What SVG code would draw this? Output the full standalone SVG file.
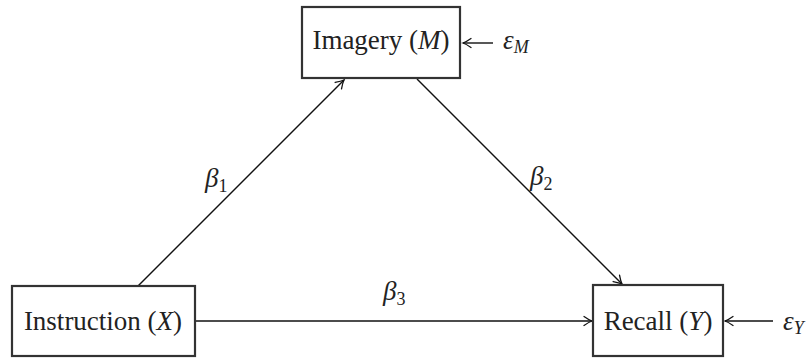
<svg xmlns="http://www.w3.org/2000/svg" width="810" height="358" viewBox="0 0 810 358">
<style>
.box{fill:#fff;stroke:#333;stroke-width:2.2}
.lbl{font-family:'Liberation Serif',serif;font-size:27px;fill:#222}
.it{font-style:italic}
.edge{stroke:#111;stroke-width:1.4;fill:none;marker-end:url(#ah)}
</style>
<defs>
<marker id="ah" viewBox="-10 -6 12 12" refX="0" refY="0" markerWidth="12" markerHeight="12" markerUnits="userSpaceOnUse" orient="auto">
<path d="M-8,-4.5 Q-3,-1 0,0 Q-3,1 -8,4.5" fill="none" stroke="#111" stroke-width="1.3" stroke-linecap="round"/>
</marker>
</defs>
<rect width="810" height="358" fill="#fff"/>
<g id="connectors">
<line class="edge" x1="138" y1="286" x2="344" y2="80"/>
<line class="edge" x1="417" y1="79" x2="622" y2="284"/>
<line class="edge" x1="196" y1="321" x2="592" y2="321"/>
<line class="edge" x1="493" y1="43" x2="463" y2="43"/>
<line class="edge" x1="773" y1="321" x2="725" y2="321"/>
<text class="lbl" x="205" y="187"><tspan class="it">β</tspan><tspan font-size="18" dy="5">1</tspan></text>
<text class="lbl" x="530" y="185"><tspan class="it">β</tspan><tspan font-size="18" dy="5">2</tspan></text>
<text class="lbl" x="383" y="300"><tspan class="it">β</tspan><tspan font-size="18" dy="5">3</tspan></text>
</g>
<g id="node-imagery">
<rect class="box" x="302" y="7" width="158" height="71"/>
<text class="lbl" x="381" y="49" text-anchor="middle">Imagery (<tspan class="it">M</tspan>)</text>
</g>
<g id="eps-m">
<text class="lbl" x="503" y="49"><tspan class="it">ε</tspan><tspan class="it" font-size="18" dy="4">M</tspan></text>
</g>
<g id="node-instruction">
<rect class="box" x="12" y="286" width="183" height="70"/>
<text class="lbl" x="103" y="330" text-anchor="middle">Instruction (<tspan class="it">X</tspan>)</text>
</g>
<g id="node-recall">
<rect class="box" x="593" y="285" width="130" height="71"/>
<text class="lbl" x="658" y="330" text-anchor="middle">Recall (<tspan class="it">Y</tspan>)</text>
</g>
<g id="eps-y">
<text class="lbl" x="783" y="330"><tspan class="it">ε</tspan><tspan class="it" font-size="18" dy="4">Y</tspan></text>
</g>
</svg>
